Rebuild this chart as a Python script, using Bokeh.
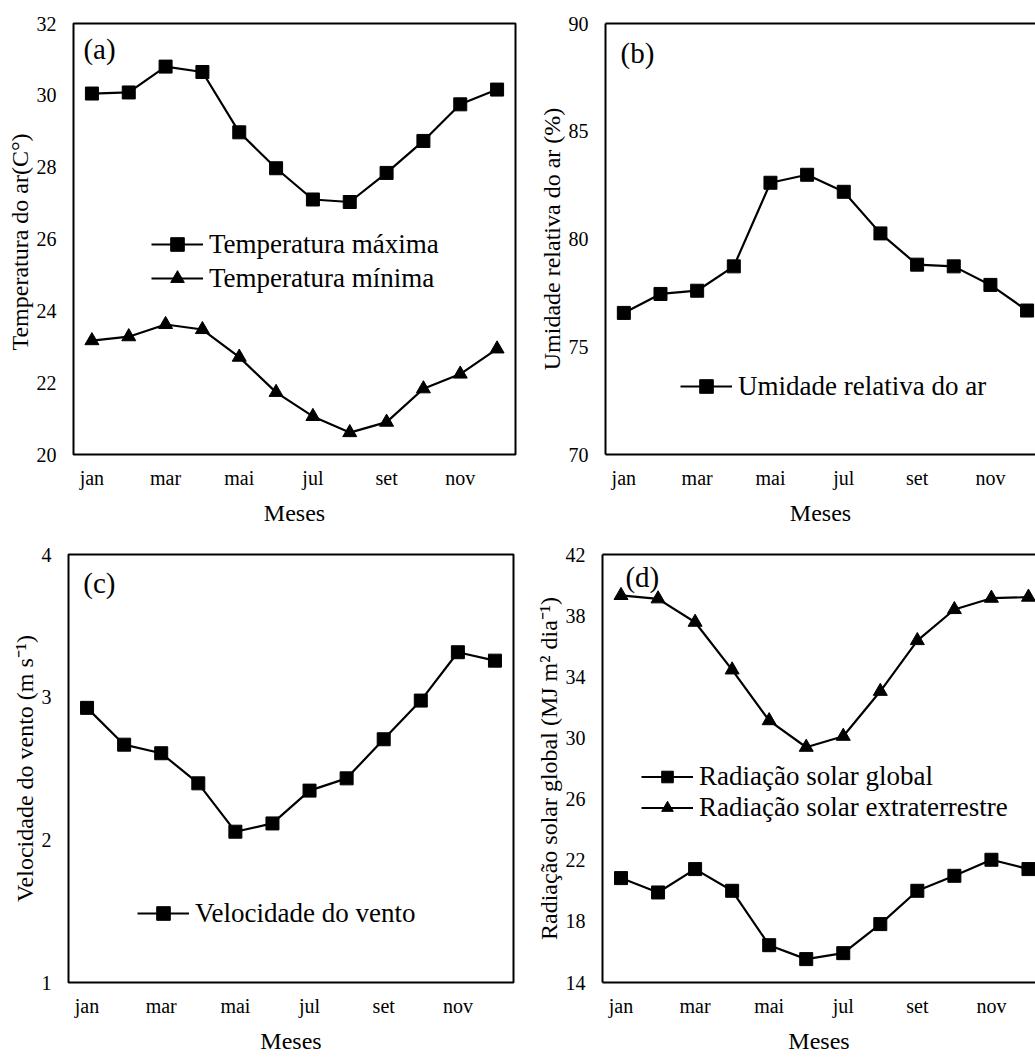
from bokeh.plotting import figure
from bokeh.layouts import column, row
from bokeh.models import Range1d, FixedTicker, Legend, LegendItem, Label, LinearAxis
from bokeh.embed import file_html
from bokeh.resources import INLINE

# ---------------- data ----------------
months = ["jan", "fev", "mar", "abr", "mai", "jun", "jul", "ago", "set", "out", "nov", "dez"]
tick_labels = ["jan", "mar", "mai", "jul", "set", "nov"]

temp_max = [30.05, 30.08, 30.80, 30.65, 28.97, 27.97, 27.10, 27.03, 27.84, 28.73, 29.75, 30.16]
temp_min = [23.17, 23.28, 23.62, 23.48, 22.71, 21.73, 21.06, 20.61, 20.90, 21.83, 22.24, 22.94]
umidade = [76.57, 77.45, 77.60, 78.73, 82.61, 82.98, 82.19, 80.26, 78.81, 78.73, 77.87, 76.68]
vento = [2.925, 2.667, 2.607, 2.396, 2.057, 2.115, 2.345, 2.431, 2.705, 2.976, 3.315, 3.256]
rad_global = [20.83, 19.89, 21.42, 20.00, 16.44, 15.53, 15.92, 17.82, 20.00, 20.98, 22.03, 21.42]
rad_extra = [39.32, 39.10, 37.57, 34.45, 31.13, 29.39, 30.11, 33.05, 36.37, 38.40, 39.14, 39.21]

ticks_a = [20, 22, 24, 26, 28, 30, 32]
ticks_b = [70, 75, 80, 85, 90]
ticks_c = [1, 2, 3, 4]
ticks_d = [14, 18, 22, 26, 30, 34, 38, 42]

FONT = "Liberation Serif"
xs = list(range(len(months)))


def make_fig(w, h, bl, br, bt, bb, x_end, yr, yticks, ylabel, full_box):
    p = figure(width=w, height=h, x_range=Range1d(-0.5, x_end), y_range=Range1d(yr[0], yr[1]),
               output_backend="svg", toolbar_location=None,
               min_border_left=bl, min_border_right=br, min_border_top=bt, min_border_bottom=bb)
    p.xgrid.visible = False
    p.ygrid.visible = False
    p.background_fill_color = "white"
    p.border_fill_color = "white"
    tick_pos = [months.index(m) for m in tick_labels]
    p.xaxis.ticker = FixedTicker(ticks=tick_pos)
    p.xaxis.major_label_overrides = {t: m for t, m in zip(tick_pos, tick_labels)}
    p.yaxis.ticker = FixedTicker(ticks=yticks)
    for ax in (p.xaxis[0], p.yaxis[0]):
        ax.major_tick_out = 0
        ax.major_tick_in = 0
        ax.minor_tick_out = 0
        ax.minor_tick_in = 0
        ax.major_label_text_font = FONT
        ax.major_label_text_font_size = "20px"
        ax.major_label_text_color = "black"
        ax.axis_label_text_font = FONT
        ax.axis_label_text_font_size = "24px"
        ax.axis_label_text_font_style = "normal"
        ax.axis_label_text_color = "black"
    p.xaxis.axis_label = "Meses"
    p.xaxis.major_label_standoff = 12
    p.xaxis.axis_label_standoff = 8
    p.yaxis.axis_label = ylabel
    p.yaxis.major_label_standoff = 17
    p.yaxis.axis_label_standoff = 1
    if full_box:
        p.outline_line_color = "black"
        p.outline_line_width = 2
        p.outline_line_alpha = 1
        p.xaxis.axis_line_color = None
        p.yaxis.axis_line_color = None
    else:
        p.outline_line_color = None
        p.xaxis.axis_line_width = 2
        p.yaxis.axis_line_width = 2
        p.xaxis.axis_line_color = "black"
        p.yaxis.axis_line_color = "black"
        top = LinearAxis(ticker=FixedTicker(ticks=[]), major_label_text_font_size="0px",
                         major_tick_out=0, major_tick_in=0, minor_tick_out=0, minor_tick_in=0,
                         axis_line_width=2, axis_line_color="black")
        p.add_layout(top, "above")
    return p


def series(p, ys, marker, size):
    ln = p.line(xs, ys, line_color="black", line_width=2.2)
    sc = p.scatter(xs, ys, marker=marker, size=size, fill_color="black", line_color="black")
    return [ln, sc]


def add_legend(p, items, loc, item_h, spacing=0):
    leg = Legend(items=[LegendItem(label=lab, renderers=r) for lab, r in items],
                 location=loc, orientation="vertical",
                 label_text_font=FONT, label_text_font_size="27px", label_text_color="black",
                 glyph_width=52, glyph_height=item_h, label_height=item_h,
                 label_standoff=6, spacing=spacing, padding=0, margin=0,
                 border_line_color=None, background_fill_alpha=0)
    p.add_layout(leg, "center")


def add_tag(p, text, x, y):
    p.add_layout(Label(x=x, y=y, text=text, text_font=FONT, text_font_size="29px",
                       text_color="black", text_align="left", text_baseline="middle"))


TOP_H = 538
BOT_H = 521

# ---------------- (a) ----------------
pa = make_fig(520, TOP_H, 73, 5, 23, 84, 11.5, (20, 32), ticks_a, "Temperatura  do ar(C°)", True)
ra1 = series(pa, temp_max, "square", 13)
ra2 = series(pa, temp_min, "triangle", 14)
add_legend(pa, [("Temperatura máxima", ra1), ("Temperatura mínima", ra2)], (78, 159), 34)
add_tag(pa, "(a)", -0.23, 31.3)

# ---------------- (b) ----------------
pb = make_fig(515, TOP_H, 85, 0, 23, 84, 11.23, (70, 90), ticks_b, "Umidade relativa do ar (%)", False)
rb = series(pb, umidade, "square", 13)
add_legend(pb, [("Umidade relativa do ar", rb)], (75, 51), 34)
add_tag(pb, "(b)", -0.09, 88.65)

# ---------------- (c) ----------------
pc = make_fig(520, BOT_H, 68, 7, 16, 77, 11.5, (1, 4), ticks_c, "Velocidade do vento (m s⁻¹)", True)
rc = series(pc, vento, "square", 13)
add_legend(pc, [("Velocidade do vento", rc)], (69, 52), 34)
add_tag(pc, "(c)", -0.1, 3.80)

# ---------------- (d) ----------------
pd_ = make_fig(515, BOT_H, 82, 0, 16, 77, 11.19, (14, 42), ticks_d,
               "Radiação solar global (MJ m² dia⁻¹)", False)
rd1 = series(pd_, rad_global, "square", 13)
rd2 = series(pd_, rad_extra, "triangle", 14)
add_legend(pd_, [("Radiação solar global", rd1), ("Radiação solar extraterrestre", rd2)],
           (39, 159), 29, spacing=-2)
add_tag(pd_, "(d)", 0.12, 40.55)

layout = column(row(pa, pb), row(pc, pd_))
open("out.html", "w").write(file_html(layout, INLINE))
